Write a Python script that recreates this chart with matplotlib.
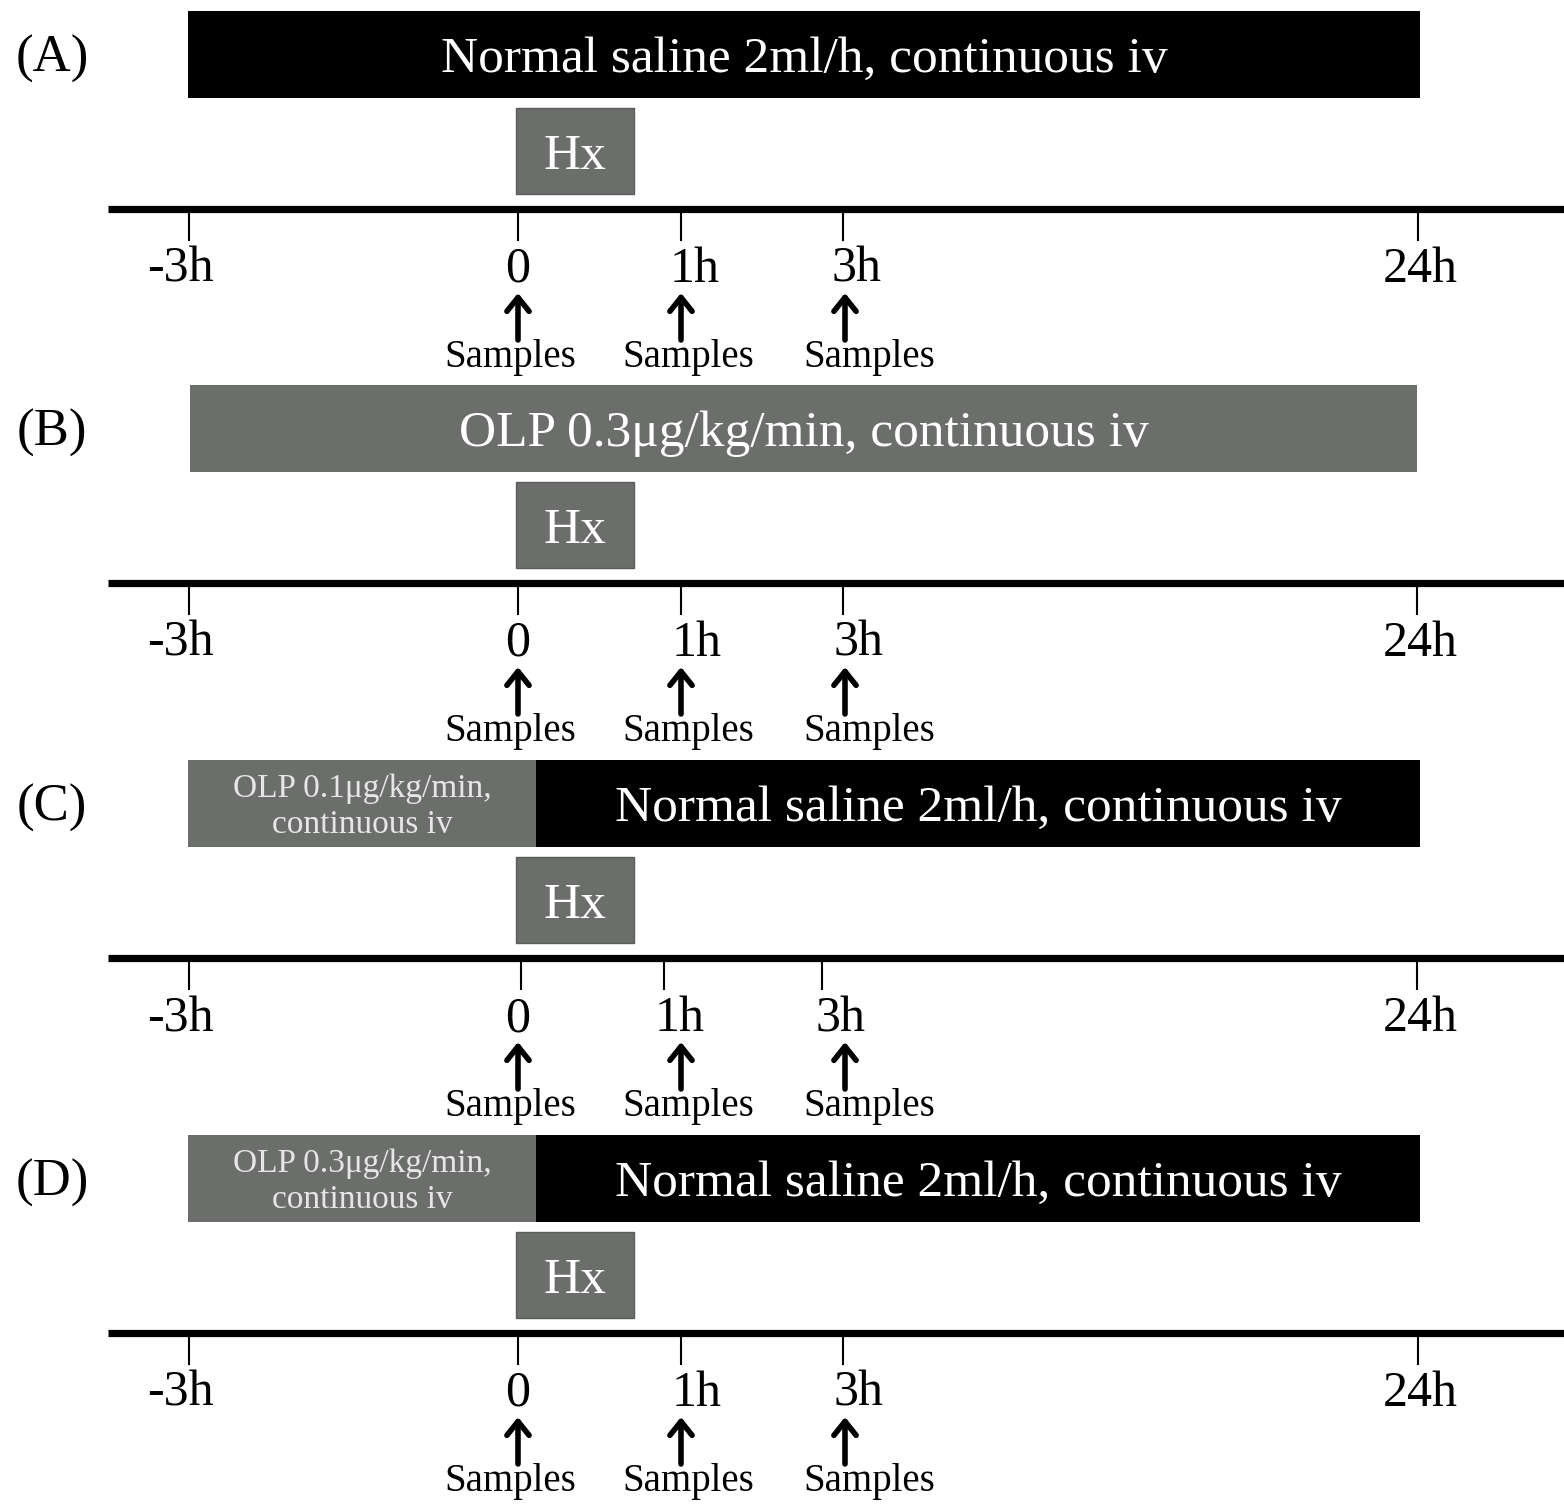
import matplotlib
matplotlib.use('Agg')
import matplotlib.pyplot as plt

plt.rcParams['font.family'] = ['Liberation Serif', 'DejaVu Serif']

# panel labels and the baseline (timeline) height of each panel
panel_tags = ['(A)', '(B)', '(C)', '(D)']
timeline_y = [209, 583, 958, 1333]

# schematic timeline: labels and where each tick sits on the drawing
tick_labels = ['-3h', '0', '1h', '3h', '24h']
tick_x = [
    [189, 518, 681, 843, 1418],
    [189, 518, 681, 843, 1417],
    [189, 521, 664, 822, 1417],
    [189, 518, 681, 843, 1418],
]
label_x = [
    [180, 518, 695, 857, 1420],
    [180, 518, 697, 858, 1420],
    [180, 518, 680, 840, 1420],
    [180, 518, 697, 858, 1420],
]

# sampling time points (arrows)
sample_x = [518, 681, 845]
sample_text_x = [510, 688, 869]

# infusion segments per panel: (text, start, end, kind)
infusions = [
    [('Normal saline 2ml/h, continuous iv', 188, 1420, 'saline')],
    [('OLP 0.3\u03bcg/kg/min, continuous iv', 190, 1417, 'olp')],
    [('OLP 0.1\u03bcg/kg/min,\ncontinuous iv', 188, 536, 'olp_small'),
     ('Normal saline 2ml/h, continuous iv', 536, 1420, 'saline')],
    [('OLP 0.3\u03bcg/kg/min,\ncontinuous iv', 188, 536, 'olp_small'),
     ('Normal saline 2ml/h, continuous iv', 536, 1420, 'saline')],
]

# hepatectomy box
hx_start, hx_end = 516, 634

gray = '#6b6e6b'
colors = {'saline': 'black', 'olp': gray, 'olp_small': gray}

fig = plt.figure(figsize=(15.64, 15.05), dpi=100)
ax = fig.add_axes([0, 0, 1, 1])
ax.set_xlim(0, 1564)
ax.set_ylim(1505, 0)
ax.axis('off')

for i, base in enumerate(timeline_y):
    # panel tag
    ax.text(52, base - 137, panel_tags[i], fontsize=38, ha='center', va='baseline')

    # infusion bars
    for text, start, end, kind in infusions[i]:
        ax.barh(base - 155, end - start, left=start, height=87,
                color=colors[kind], edgecolor='none')
        cx = (start + end) / 2
        if kind == 'olp_small':
            first, second = text.split('\n')
            ax.text(cx, base - 161, first, color='#e6e6e6', fontsize=24,
                    ha='center', va='baseline')
            ax.text(cx, base - 125, second, color='#e6e6e6', fontsize=24,
                    ha='center', va='baseline')
        else:
            ax.text(cx, base - 137, text, color='white', fontsize=37,
                    ha='center', va='baseline')

    # Hx box
    ax.barh(base - 58, hx_end - hx_start, left=hx_start, height=86,
            color=gray, edgecolor='#5a5c5a', linewidth=1)
    ax.text((hx_start + hx_end) / 2, base - 40, 'Hx', color='white',
            fontsize=37, ha='center', va='baseline')

    # timeline
    ax.plot([108, 1564], [base, base], color='black', lw=5.2, solid_capstyle='butt')
    for x, lx, lab in zip(tick_x[i], label_x[i], tick_labels):
        ax.plot([x, x], [base, base + 31], color='black', lw=1.5)
        ax.text(lx, base + 73, lab, fontsize=36, ha='center', va='baseline')

    # sample arrows
    for x, tx in zip(sample_x, sample_text_x):
        ax.annotate('', xy=(x, base + 84), xytext=(x, base + 131),
                    arrowprops=dict(arrowstyle='->,head_length=1.0,head_width=0.8',
                                    lw=4, color='black', shrinkA=0, shrinkB=0))
        ax.text(tx, base + 158, 'Samples', fontsize=28, ha='center', va='baseline')

fig.savefig('out.png', dpi=100)
